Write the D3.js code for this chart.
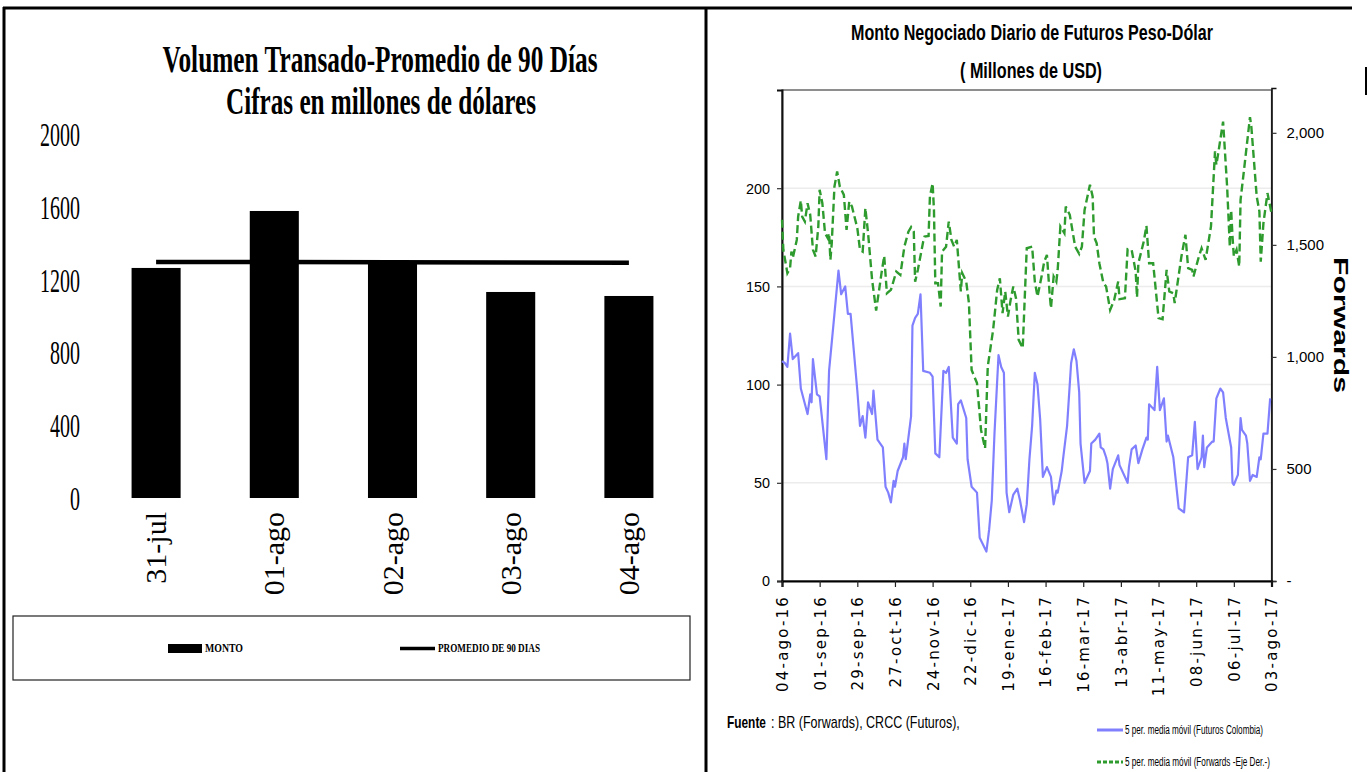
<!DOCTYPE html>
<html><head><meta charset="utf-8">
<script src="https://cdn.jsdelivr.net/npm/d3@7"></script>
<style>
html,body{margin:0;padding:0;background:#fff;}
svg{display:block;}
</style></head>
<body><svg id="c" width="1369" height="772"></svg>
<script>
// ---------- Left chart data ----------
const barCategories = ["31-jul","01-ago","02-ago","03-ago","04-ago"];
const montoValues = [1264, 1577, 1302, 1132, 1110];
const promedio90Values = [1297, 1297, 1296, 1294, 1292];
const leftYTicks = [0, 400, 800, 1200, 1600, 2000];

// ---------- Right chart data ----------
const startDate = "2016-08-04";
const xTickLabels = ["04-ago-16","01-sep-16","29-sep-16","27-oct-16","24-nov-16","22-dic-16","19-ene-17","16-feb-17","16-mar-17","13-abr-17","11-may-17","08-jun-17","06-jul-17","03-ago-17"];
const xTickDays = [0,28,56,84,112,140,168,196,224,252,280,308,336,364];
const futTicks = [0,50,100,150,200];
const fwdTicks = [0,500,1000,1500,2000];
const fwdTickLabels = ["-","500","1,000","1,500","2,000"];
// days since 04-ago-16 and 5-period moving average (Futuros, left axis)
const futDays = [0,2,4,6,8,12,14,19,21,22,23,26,28,33,35,39,42,44,47,49,51,56,58,60,62,64,67,68,71,75,77,79,81,83,84,86,90,91,92,96,97,99,101,103,105,110,112,114,117,120,122,124,127,130,131,133,137,138,141,145,147,152,154,156,158,161,163,165,167,169,172,175,177,180,182,184,186,188,190,192,194,197,200,202,204,205,208,209,212,215,217,219,221,222,225,229,230,233,236,237,239,241,242,244,246,250,251,257,258,260,263,265,268,271,272,273,277,279,281,284,286,287,291,295,299,302,305,307,309,312,313,314,316,320,321,323,326,328,330,334,335,336,339,341,342,345,346,348,350,353,355,356,358,361,363];
const futVals = [112,111,109,126,113,116,98,85,95,91,113,95,94,62,107,136,158,146,150,136,136,97,79,84,73,91,85,97,72,68,48,45,40,51,48,56,63,70,62,84,130,134,136,146,107,106,104,65,63,107,106,109,73,70,90,92,83,62,48,45,22,15,26,41,75,115,109,106,45,35,44,47,41,30,39,62,79,106,100,82,53,58,53,39,46,45,56,62,79,111,118,112,96,70,50,56,70,72,75,68,67,63,60,47,57,64,59,50,58,67,69,60,67,73,72,90,87,109,87,93,71,74,63,37,35,63,64,81,57,63,74,58,68,71,71,93,98,96,83,68,50,49,54,83,77,74,70,51,54,53,63,62,75,75,93];
// Forwards, right axis
const fwdDays = [0,1,4,6,7,8,11,12,14,15,17,19,21,23,25,27,28,30,32,34,35,36,37,39,41,43,46,48,50,52,56,58,60,62,64,67,70,74,76,78,81,85,88,91,94,96,98,99,101,105,106,109,110,112,113,114,116,118,119,122,124,126,128,130,133,134,137,139,141,145,148,151,153,157,160,162,164,166,168,170,172,174,176,179,182,186,188,190,193,195,197,199,200,202,204,205,207,210,211,214,218,221,223,225,229,231,232,234,236,239,241,244,247,250,251,255,257,260,263,264,265,269,271,273,276,280,283,286,288,291,292,297,300,302,305,306,310,312,315,319,322,323,324,328,331,333,334,335,336,338,340,341,343,348,349,353,355,356,358,361,364];
const fwdVals = [1612,1478,1374,1396,1470,1441,1522,1626,1698,1626,1604,1686,1634,1478,1448,1582,1746,1686,1552,1530,1552,1433,1508,1760,1827,1760,1723,1567,1693,1671,1575,1478,1470,1664,1552,1344,1207,1374,1451,1284,1299,1381,1366,1492,1559,1579,1559,1336,1388,1515,1537,1540,1716,1775,1656,1329,1329,1225,1470,1492,1604,1522,1492,1522,1292,1374,1336,1240,942,883,674,592,957,1121,1299,1351,1195,1292,1180,1254,1314,1262,1076,1039,1485,1492,1336,1269,1359,1425,1455,1284,1217,1359,1336,1388,1582,1552,1671,1634,1492,1460,1492,1656,1768,1716,1537,1507,1418,1329,1314,1210,1254,1336,1258,1262,1481,1478,1381,1266,1418,1515,1585,1418,1418,1173,1168,1388,1292,1284,1240,1448,1545,1396,1388,1359,1448,1485,1433,1582,1917,1857,1894,2050,1760,1492,1656,1537,1448,1478,1403,1701,1805,2070,2028,1716,1649,1425,1597,1731,1641];

const svg = d3.select("#c");

// ---------- Frame ----------
const frame = svg.append("g").attr("stroke","#000").attr("stroke-width",3);
frame.append("line").attr("x1",3).attr("x2",1352).attr("y1",8).attr("y2",8);
frame.append("line").attr("x1",4).attr("x2",4).attr("y1",7).attr("y2",772);
frame.append("line").attr("x1",706).attr("x2",706).attr("y1",7).attr("y2",772);
frame.append("line").attr("x1",1366).attr("x2",1366).attr("y1",67).attr("y2",95).attr("stroke-width",2);

// ---------- Left chart ----------
const L = svg.append("g");
const serif = "'Liberation Serif','Times New Roman',serif";
L.append("text").attr("x",380).attr("y",72).attr("text-anchor","middle")
  .attr("font-family",serif).attr("font-weight","bold").attr("font-size",37)
  .attr("textLength",435).attr("lengthAdjust","spacingAndGlyphs")
  .text("Volumen Transado-Promedio de 90 Días");
L.append("text").attr("x",381).attr("y",114).attr("text-anchor","middle")
  .attr("font-family",serif).attr("font-weight","bold").attr("font-size",37)
  .attr("textLength",310).attr("lengthAdjust","spacingAndGlyphs")
  .text("Cifras en millones de dólares");

const xb = d3.scaleBand().domain(barCategories).range([97,688]).paddingInner(0.585).paddingOuter(0.2925);
const yb = d3.scaleLinear().domain([0,2000]).range([498,134]);

L.selectAll("text.yl").data(leftYTicks).join("text").attr("class","yl")
  .attr("x",80).attr("y",d=>yb(d)+12).attr("text-anchor","end")
  .attr("font-family",serif).attr("font-size",34)
  .attr("textLength",d=>String(d).length*10).attr("lengthAdjust","spacingAndGlyphs")
  .text(d=>d);

L.selectAll("rect.bar").data(barCategories).join("rect").attr("class","bar")
  .attr("x",d=>xb(d)).attr("width",xb.bandwidth())
  .attr("y",(d,i)=>yb(montoValues[i])).attr("height",(d,i)=>yb(0)-yb(montoValues[i]))
  .attr("fill","#000");

L.append("path").datum(promedio90Values)
  .attr("d",d3.line().x((d,i)=>xb(barCategories[i])+xb.bandwidth()/2).y(d=>yb(d)))
  .attr("fill","none").attr("stroke","#000").attr("stroke-width",4.5);

L.selectAll("text.xl").data(barCategories).join("text").attr("class","xl")
  .attr("transform",d=>`translate(${xb(d)+xb.bandwidth()/2+10},512) rotate(-90)`)
  .attr("text-anchor","end").attr("font-family",serif).attr("font-size",30)
  .text(d=>d);

// legend
L.append("rect").attr("x",13).attr("y",616).attr("width",677).attr("height",64)
  .attr("fill","#fff").attr("stroke","#222").attr("stroke-width",1.2);
L.append("rect").attr("x",168).attr("y",644).attr("width",34).attr("height",9).attr("fill","#000");
L.append("text").attr("x",205).attr("y",652).attr("font-family",serif).attr("font-weight","bold")
  .attr("font-size",12).attr("textLength",38).attr("lengthAdjust","spacingAndGlyphs").text("MONTO");
L.append("line").attr("x1",400).attr("x2",435).attr("y1",648.5).attr("y2",648.5).attr("stroke","#000").attr("stroke-width",3.5);
L.append("text").attr("x",438).attr("y",652).attr("font-family",serif).attr("font-weight","bold")
  .attr("font-size",12).attr("textLength",102).attr("lengthAdjust","spacingAndGlyphs").text("PROMEDIO DE 90 DIAS");

// ---------- Right chart ----------
const R = svg.append("g");
const sans = "'Liberation Sans',Arial,sans-serif";
R.append("text").attr("x",1032).attr("y",40).attr("text-anchor","middle")
  .attr("font-family",sans).attr("font-weight","bold").attr("font-size",22)
  .attr("textLength",362).attr("lengthAdjust","spacingAndGlyphs")
  .text("Monto Negociado Diario de Futuros Peso-Dólar");
R.append("text").attr("x",1031).attr("y",78).attr("text-anchor","middle")
  .attr("font-family",sans).attr("font-weight","bold").attr("font-size",22)
  .attr("textLength",142).attr("lengthAdjust","spacingAndGlyphs")
  .text("( Millones de USD)");

const parse = d3.timeParse("%Y-%m-%d");
const t0 = parse(startDate);
const toDate = d => d3.timeDay.offset(t0, d);
const xr = d3.scaleTime().domain([t0, toDate(364)]).range([782,1271.5]);
const yL = d3.scaleLinear().domain([0,250]).range([581,90]);
const yR = d3.scaleLinear().domain([0,2200]).range([581,88]);

// gridlines
R.selectAll("line.grid").data(futTicks.slice(1)).join("line").attr("class","grid")
  .attr("x1",782).attr("x2",1271.5).attr("y1",d=>yL(d)).attr("y2",d=>yL(d))
  .attr("stroke","#ececec").attr("stroke-width",1.5);

// plot border
R.append("rect").attr("x",782).attr("y",90).attr("width",489.5).attr("height",491)
  .attr("fill","none").attr("stroke","#444").attr("stroke-width",1.2);

// left axis
const axL = d3.axisLeft(yL).tickValues(futTicks).tickSize(5).tickFormat(d3.format("d"));
const gL = R.append("g").attr("transform","translate(782,0)").call(axL);
gL.select(".domain").attr("stroke","#111").attr("stroke-width",2);
gL.selectAll(".tick line").attr("stroke","#333").attr("stroke-width",1.2);
gL.selectAll(".tick text").attr("font-family",sans).attr("font-size",15).attr("fill","#000").attr("x",-12)
  .attr("textLength",function(){return this.textContent.length*8;}).attr("lengthAdjust","spacingAndGlyphs");

// right axis
const axR = d3.axisRight(yR).tickValues(fwdTicks).tickSize(5).tickFormat((d,i)=>fwdTickLabels[i]);
const gR = R.append("g").attr("transform","translate(1271.5,0)").call(axR);
gR.select(".domain").attr("stroke","#111").attr("stroke-width",1.6);
gR.selectAll(".tick line").attr("stroke","#333").attr("stroke-width",1.2);
gR.selectAll(".tick text").attr("font-family",sans).attr("font-size",15).attr("fill","#000").attr("x",15);

// bottom axis
const axB = d3.axisBottom(xr).tickValues(xTickDays.map(toDate)).tickSize(6).tickFormat((d,i)=>xTickLabels[i]);
const gB = R.append("g").attr("transform","translate(0,581)").call(axB);
gB.select(".domain").attr("stroke","#000").attr("stroke-width",2.2);
gB.selectAll(".tick line").attr("stroke","#222").attr("stroke-width",1.2);
gB.selectAll(".tick text").attr("font-family","'DejaVu Sans',Verdana,sans-serif").attr("font-size",15)
  .attr("letter-spacing","2.2px").attr("fill","#000")
  .attr("transform","rotate(-90)").attr("text-anchor","end")
  .attr("x",-14).attr("y",0).attr("dy","0.36em");

// series
const futData = futDays.map((d,i)=>({date:toDate(d), v:futVals[i]}));
const fwdData = fwdDays.map((d,i)=>({date:toDate(d), v:fwdVals[i]}));
R.append("path").datum(futData)
  .attr("d",d3.line().x(d=>xr(d.date)).y(d=>yL(d.v)))
  .attr("fill","none").attr("stroke","#8080ff").attr("stroke-width",2.2).attr("stroke-linejoin","round");
R.append("path").datum(fwdData)
  .attr("d",d3.line().x(d=>xr(d.date)).y(d=>yR(d.v)))
  .attr("fill","none").attr("stroke","#2e9b2e").attr("stroke-width",2.4)
  .attr("stroke-dasharray","8,4");

// right axis title
R.append("text").attr("transform","translate(1334,325) rotate(90)").attr("text-anchor","middle")
  .attr("font-family",sans).attr("font-weight","bold").attr("font-size",20)
  .attr("textLength",136).attr("lengthAdjust","spacingAndGlyphs").text("Forwards");

// source (condensed via horizontal scale)
function squeezed(parent, x, y, txt, size, weight, width){
  const t = parent.append("text").attr("font-family",sans).attr("font-size",size)
    .attr("font-weight",weight).text(txt);
  const w = t.node().getComputedTextLength() || width;
  t.attr("transform",`translate(${x},${y}) scale(${width/w},1)`);
  return t;
}
squeezed(R, 727, 728, "Fuente", 16, "bold", 39);
squeezed(R, 771, 728, ": BR (Forwards), CRCC (Futuros),", 16, "normal", 189);

// legend
R.append("line").attr("x1",1097).attr("x2",1123).attr("y1",730).attr("y2",730).attr("stroke","#8080ff").attr("stroke-width",3);
R.append("text").attr("x",1125).attr("y",734).attr("font-family",sans).attr("font-size",12)
  .attr("textLength",138).attr("lengthAdjust","spacingAndGlyphs").text("5 per. media móvil (Futuros Colombia)");
R.append("line").attr("x1",1097).attr("x2",1123).attr("y1",762).attr("y2",762).attr("stroke","#2e9b2e").attr("stroke-width",3).attr("stroke-dasharray","4,2");
R.append("text").attr("x",1125).attr("y",766).attr("font-family",sans).attr("font-size",12)
  .attr("textLength",145).attr("lengthAdjust","spacingAndGlyphs").text("5 per. media móvil (Forwards -Eje Der.-)");
</script></body></html>
